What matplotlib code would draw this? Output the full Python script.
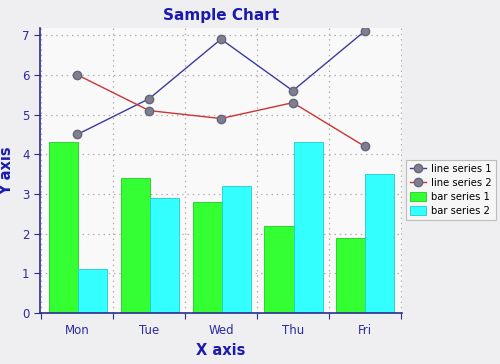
import numpy as np
import matplotlib
matplotlib.use("Agg")
import matplotlib.pyplot as plt

days = ["Mon", "Tue", "Wed", "Thu", "Fri"]
line1 = [4.5, 5.4, 6.9, 5.6, 7.1]
line2 = [6.0, 5.1, 4.9, 5.3, 4.2]
bars1 = [4.3, 3.4, 2.8, 2.2, 1.9]
bars2 = [1.1, 2.9, 3.2, 4.3, 3.5]

BLUE_TXT = "#1a1ab0"
TICK_TXT = "#2b2ba0"

fig = plt.figure(figsize=(5.0, 3.64), dpi=100, facecolor="#efeef0")
ax = fig.add_axes([0.08, 0.14, 0.724, 0.783], facecolor="#f9f9fa")

x = np.arange(len(days))
w = 0.405
ax.bar(x - w / 2 + 0.01, bars1, w, color="#33ff33", edgecolor="#22cc22", linewidth=0.6,
       label="bar series 1", zorder=2)
ax.bar(x + w / 2 + 0.01, bars2, w, color="#33ffff", edgecolor="#22cccc", linewidth=0.6,
       label="bar series 2", zorder=2)
ax.plot(x, line1, color="#3b3b9c", lw=1.0, marker="o", ms=6,
        mfc="#7f7f90", mec="#66667a", label="line series 1", zorder=3)
ax.plot(x, line2, color="#cc3333", lw=1.0, marker="o", ms=6,
        mfc="#7f7f90", mec="#66667a", label="line series 2", zorder=3)

ax.set_xlim(-0.52, 4.52)
ax.set_ylim(0, 7.18)
ax.set_yticks(range(0, 8))
ax.set_xticks(np.arange(-0.5, 5, 1))
ax.set_xticklabels([])
ax.set_xticks(x, minor=True)
ax.set_xticklabels(days, minor=True)
ax.tick_params(axis="x", which="minor", length=0, pad=8, labelsize=8.5, labelcolor=TICK_TXT)
ax.tick_params(axis="x", which="major", length=4, color="#2b2b90", direction="out")
ax.tick_params(axis="y", length=4, color="#2b2b90", labelsize=8.5, labelcolor=TICK_TXT)

ax.grid(True, which="major", color="#b0b0b0", linestyle=(0, (1.2, 3)), lw=0.9, zorder=0)
for s in ["top", "right"]:
    ax.spines[s].set_visible(False)
for s in ["left", "bottom"]:
    ax.spines[s].set_color("#2b2b90")
    ax.spines[s].set_linewidth(1.2)

ax.set_title("Sample Chart", color=BLUE_TXT, fontsize=11, fontweight="bold", pad=6)
ax.set_xlabel("X axis", color=BLUE_TXT, fontsize=10.5, fontweight="bold", labelpad=4)
ax.set_ylabel("Y axis", color=BLUE_TXT, fontsize=10.5, fontweight="bold", labelpad=6)

h, l = ax.get_legend_handles_labels()
leg = fig.legend(h, l, loc="center left", bbox_to_anchor=(0.812, 0.478),
                 fontsize=7.2, frameon=True, fancybox=False,
                 handlelength=1.6, handleheight=0.9, borderpad=0.4,
                 labelspacing=0.4, handletextpad=0.5, borderaxespad=0)
leg.get_frame().set_edgecolor("#b0b0b0")
leg.get_frame().set_facecolor("#f9f9fa")
leg.get_frame().set_linewidth(0.8)

fig.savefig("out.png", dpi=100, facecolor=fig.get_facecolor())
